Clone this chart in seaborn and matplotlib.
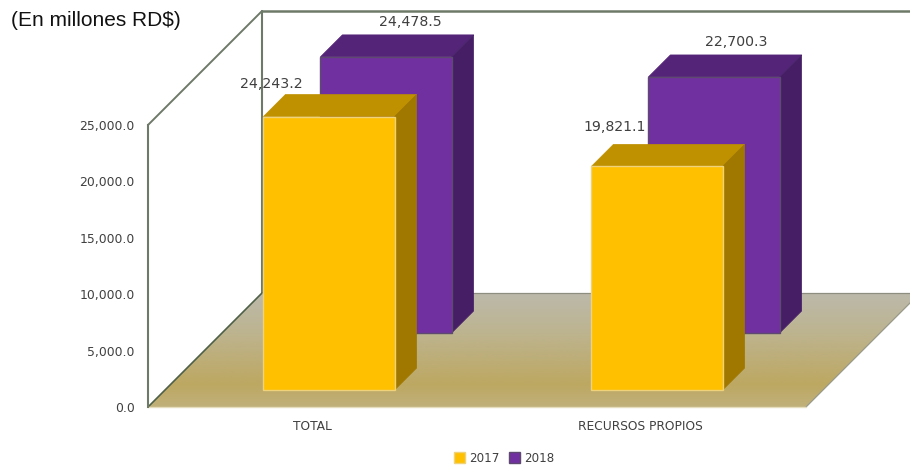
import matplotlib
matplotlib.use("Agg")
import matplotlib.pyplot as plt
import numpy as np
import pandas as pd
import seaborn as sns
from matplotlib.colors import LinearSegmentedColormap
from matplotlib.patches import Patch, Polygon
from matplotlib.transforms import Affine2D, IdentityTransform

categories = ["TOTAL", "RECURSOS PROPIOS"]
years = ["2017", "2018"]
values_2017 = [24243.2, 19821.1]
values_2018 = [24478.5, 22700.3]
y_ticks = [0, 5000, 10000, 15000, 20000, 25000]
title_text = "(En millones RD$)"

# styling
W, H = 910, 468
FRONT = {"2017": "#FFC000", "2018": "#7030A0"}
TOP = {"2017": "#BF9000", "2018": "#542478"}
SIDE = {"2017": "#A07800", "2018": "#451E66"}
EDGE = {"2017": "#EFD27A", "2018": "#5E4A70"}
DEPTH_SHIFT = {"2017": 17, "2018": 74}
BAR_DEPTH = 22
FLOOR_DEPTH = 114
FLOOR_EXTRA = 2
LABEL_OFFSET = {
    ("2017", 0): (-58, 33), ("2018", 0): (24, 35),
    ("2017", 1): (-42, 39), ("2018", 1): (22, 35),
}
LINE = "#6E7A68"
TXT = "#404040"

sns.set_theme(style="white")
plt.rcParams["font.family"] = "DejaVu Sans"

df = pd.DataFrame({
    "category": categories * 2,
    "year": [years[0]] * 2 + [years[1]] * 2,
    "value": values_2017 + values_2018,
})

fig = plt.figure(figsize=(W / 100, H / 100), dpi=100, facecolor="white")
ax = fig.add_axes([148 / W, 1 - 407 / H, (804 - 148) / W, (407 - 125) / H])
ax.patch.set_alpha(0)

sns.barplot(data=df, x="category", y="value", hue="year", order=categories,
            hue_order=years, palette=FRONT, dodge=False, width=0.4,
            saturation=1, legend=False, ax=ax, zorder=5)
ax.set_xlim(-0.5, 1.5)
ax.set_ylim(0, 25000)
ax.set_yticks(y_ticks)
ax.set_yticklabels([f"{v:,.1f}" for v in y_ticks], fontsize=8.9, color=TXT)
ax.tick_params(axis="y", length=0, pad=9.5)
ax.tick_params(axis="x", length=0, pad=9)
for lab in ax.get_xticklabels():
    lab.set_fontsize(8.8)
    lab.set_color(TXT)
ax.set_xlabel("")
ax.set_ylabel("")
for s in ["top", "right", "bottom"]:
    ax.spines[s].set_visible(False)
ax.spines["left"].set_color(LINE)
ax.spines["left"].set_linewidth(1.5)

identity = IdentityTransform()
fig.canvas.draw()

# plane corners in display space, from the axes
(x0, y0), (x1, y1) = ax.transAxes.transform([(0, 0), (1, 1)])
x1 += FLOOR_EXTRA
d = FLOOR_DEPTH

floor = Polygon([(x0, y0), (x1, y0), (x1 + d, y0 + d), (x0 + d, y0 + d)],
                closed=True, transform=identity, facecolor="none", edgecolor="none")
ax.add_patch(floor)
floor_cmap = LinearSegmentedColormap.from_list(
    "floor", [(0, "#BCB9AB"), (0.35, "#BDB48F"), (0.8, "#BDA862"), (1, "#C0B07A")])
im = ax.imshow(np.linspace(0, 1, 256)[:, None], cmap=floor_cmap, aspect="auto",
               extent=(x0, x1 + d, y0, y0 + d), origin="upper",
               transform=identity, zorder=1)
im.set_clip_box(fig.bbox)
im.set_clip_path(floor)
ax.set_xlim(-0.5, 1.5)
ax.set_ylim(0, 25000)

# walls
wall_style = dict(color=LINE, transform=identity, clip_on=False, zorder=2)
ax.plot([x0, x0 + d], [y1, y1 + d], lw=1.4, **wall_style)
ax.plot([x0 + d, x0 + d], [y0 + d, y1 + d], lw=1.5, **wall_style)
ax.plot([x0 + d, W + 5], [y1 + d, y1 + d], lw=1.8, **wall_style)
ax.plot([x0, x0 + d], [y0, y0 + d], lw=1.2, color="#4F6048",
        transform=identity, clip_on=False, zorder=2)
ax.plot([x0 + d, W + 5], [y0 + d, y0 + d], lw=0.9, color="#8E8E80",
        transform=identity, clip_on=False, zorder=2)
ax.plot([x1, x1 + d], [y0, y0 + d], lw=0.9, color="#9A9A8A",
        transform=identity, clip_on=False, zorder=2)
ax.plot([x0, x1], [y0, y0], lw=1.0, color="#E6DDBD",
        transform=identity, clip_on=False, zorder=2)

# boxes: front faces come from seaborn, depth faces follow their geometry
for container, year in zip(ax.containers, years):
    shift = DEPTH_SHIFT[year]
    z = 6 if year == "2017" else 4
    b = BAR_DEPTH
    for i, bar in enumerate(container):
        (bx0, by0), (bx1, by1) = ax.transData.transform(
            [(bar.get_x(), 0), (bar.get_x() + bar.get_width(), bar.get_height())])
        bx0 += shift; bx1 += shift; by0 += shift; by1 += shift
        bar.set_transform(ax.transData + Affine2D().translate(shift, shift))
        bar.set_clip_on(False)
        bar.set_zorder(z + 0.2)
        bar.set_edgecolor(EDGE[year])
        bar.set_linewidth(1.0)
        ax.add_patch(Polygon([(bx0, by1), (bx1, by1), (bx1 + b, by1 + b), (bx0 + b, by1 + b)],
                             closed=True, transform=identity, facecolor=TOP[year],
                             edgecolor=TOP[year], lw=0.5, clip_on=False, zorder=z))
        ax.add_patch(Polygon([(bx1, by0), (bx1 + b, by0 + b), (bx1 + b, by1 + b), (bx1, by1)],
                             closed=True, transform=identity, facecolor=SIDE[year],
                             edgecolor=SIDE[year], lw=0.5, clip_on=False, zorder=z))
        ox, oy = LABEL_OFFSET[(year, i)]
        ax.annotate(f"{bar.get_height():,.1f}", xy=((bx0 + bx1) / 2, by1),
                    xycoords=identity, xytext=(ox, oy), textcoords="offset pixels",
                    ha="center", va="center", fontsize=10.2, color=TXT,
                    annotation_clip=False, zorder=10)

fig.text(11 / W, 1 - 21 / H, title_text, family="Liberation Sans", fontsize=15,
         color="#111111", ha="left", va="center")

handles = [Patch(facecolor=FRONT[y], edgecolor=EDGE[y], label=y) for y in years]
fig.legend(handles=handles, loc="center", bbox_to_anchor=(504 / W, 1 - 458 / H),
           ncol=2, frameon=False, fontsize=8.6, labelcolor=TXT,
           handlelength=0.95, handleheight=0.95, handletextpad=0.3,
           columnspacing=0.8, borderpad=0, borderaxespad=0)

fig.savefig("out.png", dpi=100, facecolor="white")
